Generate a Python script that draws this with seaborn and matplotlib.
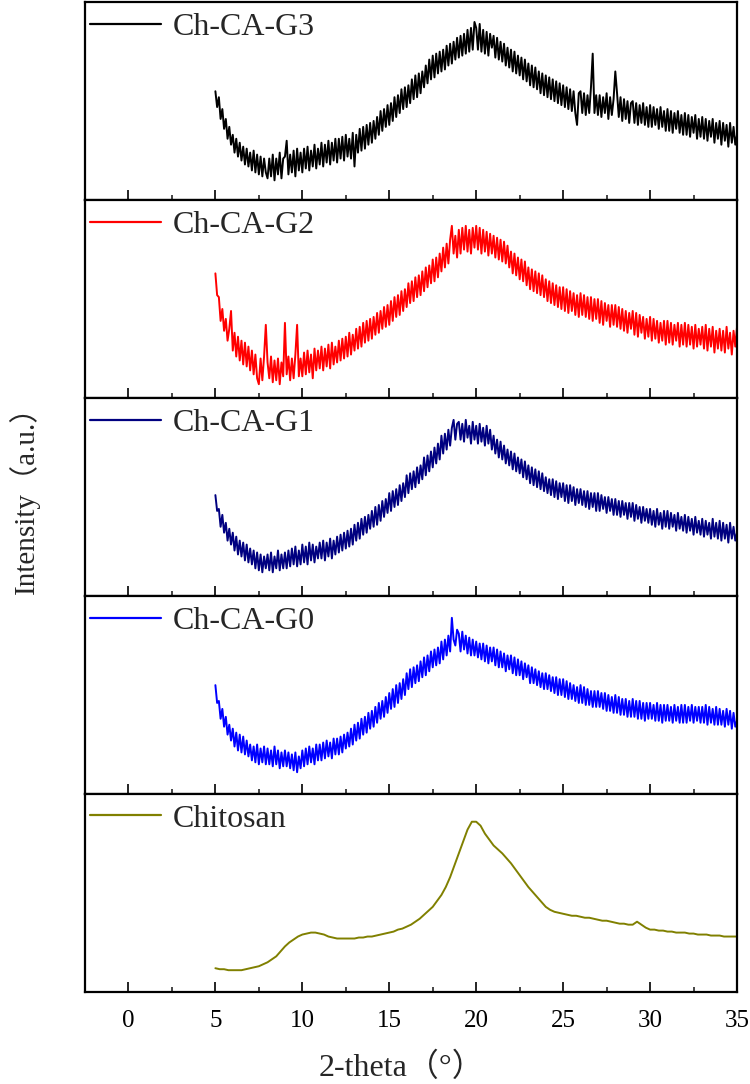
import numpy as np
import matplotlib
matplotlib.use("Agg")
import matplotlib.pyplot as plt
import seaborn as sns
from matplotlib.ticker import MultipleLocator

sns.set_theme(style="ticks")
plt.rcParams['font.family'] = ['Liberation Serif', 'Noto Sans CJK SC', 'DejaVu Sans']

# ---- data (intensity, % of each panel height), 2-theta 5..35 ----
g3 = [
    55, 47, 52, 41, 46, 36, 41, 31, 37, 28,
    33, 24, 31, 22, 29, 20, 27, 18, 26, 17,
    24, 15, 25, 14, 23, 13, 22, 12, 21, 14,
    11, 21, 12, 23, 10, 21, 13, 24, 11, 21,
    22, 30, 13, 23, 14, 25, 12, 26, 15, 24,
    14, 26, 16, 27, 15, 25, 17, 28, 16, 26,
    18, 29, 17, 28, 19, 30, 18, 29, 20, 31,
    19, 31, 21, 32, 20, 33, 22, 31, 21, 34,
    17, 33, 24, 36, 25, 37, 26, 38, 28, 39,
    29, 40, 31, 42, 33, 45, 35, 46, 37, 48,
    38, 49, 40, 52, 42, 53, 44, 56, 46, 57,
    47, 58, 49, 61, 51, 63, 52, 64, 54, 65,
    57, 68, 59, 71, 61, 73, 62, 74, 64, 75,
    65, 76, 66, 78, 68, 79, 69, 80, 71, 82,
    72, 83, 73, 84, 74, 86, 75, 87, 76, 90,
    87, 76, 89, 75, 86, 74, 85, 73, 84, 77,
    83, 72, 82, 71, 80, 70, 79, 68, 77, 67,
    76, 65, 75, 64, 73, 63, 72, 61, 71, 60,
    69, 58, 68, 57, 67, 56, 65, 54, 64, 53,
    63, 52, 62, 51, 61, 50, 60, 49, 59, 48,
    58, 47, 57, 46, 56, 45, 55, 44, 38, 54,
    55, 44, 54, 43, 53, 44, 57, 74, 44, 53,
    43, 53, 42, 52, 44, 54, 41, 52, 43, 51,
    65, 54, 42, 52, 40, 51, 41, 50, 39, 49,
    50, 39, 49, 38, 48, 39, 49, 38, 47, 37,
    48, 37, 47, 38, 46, 36, 47, 37, 45, 35,
    46, 35, 45, 34, 44, 36, 45, 34, 43, 33,
    44, 33, 43, 32, 42, 34, 43, 31, 41, 32,
    42, 31, 41, 30, 40, 32, 41, 29, 39, 31,
    40, 28, 39, 30, 38, 27, 39, 29, 37, 28,
    33,
]
g2 = [
    63, 52, 51, 39, 45, 34, 40, 29, 35, 44,
    24, 33, 21, 31, 19, 29, 17, 28, 16, 26,
    14, 24, 12, 22, 10, 7, 20, 9, 21, 37,
    18, 10, 21, 8, 19, 9, 20, 7, 18, 11,
    38, 12, 21, 9, 20, 10, 22, 37, 11, 20,
    11, 23, 12, 24, 13, 22, 10, 25, 14, 24,
    15, 26, 14, 25, 16, 27, 15, 28, 17, 26,
    18, 29, 19, 30, 20, 31, 21, 33, 22, 32,
    24, 35, 25, 36, 26, 38, 28, 39, 29, 40,
    30, 41, 32, 43, 33, 44, 35, 46, 36, 47,
    37, 49, 39, 51, 41, 52, 42, 54, 44, 55,
    46, 58, 48, 59, 49, 61, 51, 62, 52, 64,
    54, 66, 56, 67, 58, 70, 59, 71, 61, 73,
    64, 76, 66, 78, 68, 80, 87, 73, 82, 71,
    85, 73, 86, 75, 87, 74, 85, 73, 86, 76,
    87, 75, 86, 73, 85, 74, 84, 72, 83, 73,
    82, 71, 81, 70, 80, 69, 79, 68, 77, 66,
    74, 63, 73, 62, 71, 60, 70, 59, 69, 57,
    66, 55, 65, 54, 64, 53, 63, 52, 62, 51,
    60, 49, 59, 48, 58, 47, 57, 46, 56, 45,
    56, 44, 55, 43, 54, 44, 53, 42, 52, 41,
    53, 42, 52, 41, 51, 40, 51, 39, 50, 40,
    50, 38, 49, 37, 48, 39, 47, 36, 47, 37,
    47, 36, 46, 35, 45, 34, 44, 33, 43, 35,
    44, 32, 43, 31, 42, 33, 41, 30, 40, 31,
    41, 29, 40, 30, 39, 28, 38, 29, 39, 27,
    39, 28, 38, 27, 37, 29, 38, 26, 37, 27,
    38, 26, 37, 27, 36, 25, 37, 26, 35, 27,
    36, 25, 37, 24, 35, 26, 36, 23, 34, 25,
    35, 24, 34, 23, 36, 25, 33, 22, 34, 26,
    36,
]
g1 = [
    51, 43, 44, 35, 41, 32, 37, 28, 34, 26,
    32, 23, 30, 21, 28, 20, 27, 18, 26, 17,
    24, 16, 23, 14, 22, 13, 21, 12, 20, 14,
    21, 13, 22, 12, 20, 14, 23, 13, 21, 14,
    22, 14, 23, 15, 24, 16, 25, 15, 23, 16,
    26, 17, 25, 16, 27, 18, 26, 17, 25, 19,
    27, 19, 28, 18, 27, 20, 29, 19, 28, 21,
    30, 22, 31, 23, 32, 24, 33, 25, 34, 26,
    36, 28, 37, 29, 39, 31, 40, 32, 41, 34,
    43, 35, 45, 36, 46, 38, 48, 40, 49, 42,
    52, 43, 53, 45, 54, 46, 56, 48, 57, 50,
    61, 52, 62, 54, 63, 55, 65, 57, 66, 59,
    70, 61, 71, 63, 73, 65, 75, 67, 77, 69,
    81, 72, 82, 74, 84, 76, 85, 89, 79, 87,
    88, 79, 87, 78, 89, 80, 86, 77, 88, 79,
    86, 77, 87, 78, 85, 76, 86, 77, 84, 74,
    81, 72, 79, 70, 78, 69, 76, 67, 74, 66,
    73, 64, 72, 63, 70, 62, 69, 60, 68, 59,
    66, 57, 65, 56, 64, 55, 63, 54, 62, 53,
    60, 52, 59, 51, 59, 50, 58, 49, 57, 50,
    57, 48, 56, 47, 56, 48, 55, 46, 54, 47,
    54, 46, 53, 45, 53, 44, 52, 45, 52, 43,
    52, 43, 51, 44, 50, 42, 50, 43, 49, 41,
    49, 41, 48, 40, 48, 41, 47, 39, 47, 40,
    47, 38, 46, 39, 45, 37, 45, 38, 44, 37,
    44, 36, 43, 35, 44, 36, 42, 34, 43, 35,
    43, 34, 42, 35, 41, 33, 42, 34, 40, 33,
    41, 32, 40, 33, 39, 31, 40, 32, 38, 31,
    39, 30, 38, 31, 37, 29, 39, 30, 37, 29,
    38, 28, 37, 29, 36, 27, 37, 29, 35, 28,
    32,
]
g0 = [
    55, 46, 47, 38, 43, 34, 39, 30, 35, 27,
    33, 24, 31, 22, 30, 21, 29, 20, 27, 19,
    25, 17, 24, 16, 25, 15, 23, 16, 24, 15,
    23, 15, 22, 14, 24, 15, 22, 13, 21, 14,
    22, 14, 21, 13, 20, 12, 21, 11, 19, 13,
    22, 14, 23, 15, 24, 16, 23, 15, 25, 17,
    25, 17, 26, 18, 27, 19, 26, 18, 28, 20,
    28, 20, 29, 21, 30, 23, 31, 24, 33, 25,
    35, 27, 36, 28, 38, 30, 39, 31, 41, 33,
    42, 34, 44, 36, 46, 38, 47, 39, 49, 41,
    51, 43, 53, 44, 55, 46, 56, 48, 58, 50,
    61, 53, 63, 54, 64, 56, 65, 57, 67, 59,
    69, 60, 70, 62, 72, 64, 73, 65, 74, 66,
    77, 68, 78, 70, 80, 72, 89, 78, 75, 83,
    81, 72, 82, 73, 80, 71, 79, 70, 78, 70,
    77, 69, 76, 68, 76, 67, 75, 66, 74, 67,
    74, 65, 73, 64, 72, 64, 71, 62, 70, 63,
    70, 61, 69, 60, 68, 60, 67, 58, 66, 59,
    65, 56, 64, 56, 63, 55, 62, 54, 61, 53,
    61, 53, 60, 52, 59, 51, 59, 50, 58, 50,
    58, 49, 57, 48, 56, 48, 55, 47, 54, 46,
    55, 46, 54, 45, 53, 45, 52, 44, 52, 44,
    52, 44, 51, 43, 51, 42, 50, 42, 49, 41,
    50, 41, 49, 40, 48, 40, 48, 39, 47, 39,
    48, 39, 47, 38, 47, 38, 46, 37, 46, 38,
    46, 38, 45, 37, 46, 37, 45, 36, 45, 37,
    45, 37, 44, 36, 45, 37, 44, 36, 45, 36,
    45, 36, 44, 37, 45, 36, 44, 37, 44, 36,
    44, 36, 45, 35, 44, 36, 43, 35, 44, 35,
    43, 35, 42, 34, 43, 35, 42, 33, 41, 34,
    37,
]
chitosan = [
    12, 11.5, 11.5, 11, 11, 11, 11, 11.5,
    12, 12.5, 13, 14, 15, 16.5, 18, 20.5,
    23, 25, 26.5, 28, 29, 29.5, 30, 30,
    29.5, 29, 28, 27.5, 27, 27, 27, 27,
    27, 27.5, 27.5, 28, 28, 28.5, 29, 29.5,
    30, 30.5, 31.5, 32, 33, 34, 35.5, 37,
    39, 41, 43, 46, 49, 53, 58, 64,
    70, 76, 82, 86, 86, 84, 80, 77,
    74, 72, 70, 67.5, 65, 62, 59, 56,
    53, 50.5, 48, 45.5, 43, 41.5, 40.5, 40,
    39.5, 39, 38.5, 38.5, 38, 37.5, 37.5, 37,
    36.5, 36, 36, 35.5, 35, 34.5, 34.5, 34,
    34, 35.5, 34, 32.5, 31.5, 31.5, 31, 31,
    30.5, 30.5, 30, 30, 30, 29.5, 29.5, 29,
    29, 29, 28.5, 28.5, 28.5, 28, 28, 28,
    28,
]

labels = ["Ch-CA-G3", "Ch-CA-G2", "Ch-CA-G1", "Ch-CA-G0", "Chitosan"]
series = [g3, g2, g1, g0, chitosan]
colors = ["#000000", "#ff0000", "#000080", "#0000ff", "#808000"]
x_ticks = [0, 5, 10, 15, 20, 25, 30, 35]
theta_start, theta_end = 5, 35

fig = plt.figure(figsize=(7.5, 10.84), dpi=100)
gs = fig.add_gridspec(5, 1, left=0.1133, right=0.9827, top=0.998, bottom=0.0849, hspace=0)
axes = [fig.add_subplot(gs[i]) for i in range(5)]

for i, (ax, lab, col, y) in enumerate(zip(axes, labels, colors, series)):
    x = np.linspace(theta_start, theta_end, len(y))
    lw = 1.4 if i < 4 else 1.4
    sns.lineplot(x=x, y=y, ax=ax, color=col, lw=lw, label=lab)
    ax.set_xlim(-2.5, 35)
    ax.set_ylim(0, 100)
    ax.set_yticks([])
    ax.set_xticks(x_ticks)
    ax.xaxis.set_minor_locator(MultipleLocator(2.5))
    ax.tick_params(axis='x', which='major', direction='in', length=7.5, width=1.2,
                   top=False, bottom=True, labelsize=18, pad=13, colors='black')
    ax.tick_params(axis='x', which='minor', direction='in', length=3.5, width=1.2,
                   top=False, bottom=True)
    for sp in ax.spines.values():
        sp.set_linewidth(1.6)
        sp.set_color('black')
    ax.set_ylabel('')
    ax.set_xlabel('')
    leg = ax.legend(loc='upper left', bbox_to_anchor=(0.007, 0.948), frameon=False,
                    fontsize=23, handlelength=2.25, handletextpad=0.35,
                    borderaxespad=0, borderpad=0)
    for h in leg.get_lines():
        h.set_linewidth(1.6)
    if i < 4:
        ax.tick_params(axis='x', labelbottom=False)

fig.text(402 / 750, 1 - 1068 / 1084, "2-theta（°）", ha='center', va='center', fontsize=23)
fig.text(24 / 750, 1 - 493 / 1084, "Intensity（a.u.）", rotation=90, va='center', ha='center',
         fontsize=21)

fig.savefig("out.png", dpi=100)
